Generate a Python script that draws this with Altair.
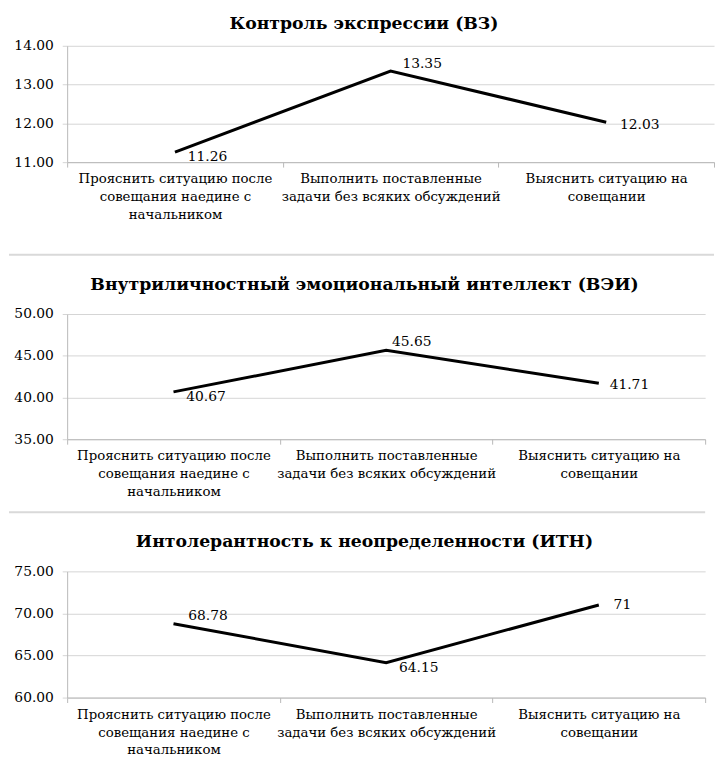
import altair as alt
import pandas as pd

categories = [
    "Прояснить ситуацию после\nсовещания наедине с\nначальником",
    "Выполнить поставленные\nзадачи без всяких обсуждений",
    "Выяснить ситуацию на\nсовещании",
]

titles = [
    "Контроль экспрессии (ВЗ)",
    "Внутриличностный эмоциональный интеллект (ВЭИ)",
    "Интолерантность к неопределенности (ИТН)",
]

values_vz = [11.26, 13.35, 12.03]
values_vei = [40.67, 45.65, 41.71]
values_itn = [68.78, 64.15, 71]

labels_vz = ["11.26", "13.35", "12.03"]
labels_vei = ["40.67", "45.65", "41.71"]
labels_itn = ["68.78", "64.15", "71"]

ticks_vz = [11, 12, 13, 14]
ticks_vei = [35, 40, 45, 50]
ticks_itn = [60, 65, 70, 75]

SERIF = "DejaVu Serif"
GRID = "#d4d4d4"
AXIS = "#b8b8b8"


def panel(title, values, labels, ticks, width, height, offsets, title_offset, title_dx, sep_y):
    df = pd.DataFrame({"idx": list(range(len(categories))), "cat": categories,
                       "value": values, "label": labels})
    base = alt.Chart(df)
    x = alt.X("cat:N", sort=categories,
              scale=alt.Scale(type="band", paddingInner=0, paddingOuter=0),
              axis=alt.Axis(title=None, labelAngle=0,
                            labelExpr="split(datum.label, '\\n')",
                            tickBand="extent", grid=False, labelLimit=400,
                            domainColor=AXIS, tickColor=AXIS, tickSize=5,
                            labelFont=SERIF, labelFontSize=13.5, labelLineHeight=18,
                            labelColor="black", labelPadding=5, labelBaseline="top"))
    y = alt.Y("value:Q",
              scale=alt.Scale(domain=[ticks[0], ticks[-1]], nice=False, zero=False),
              axis=alt.Axis(title=None, values=ticks, format=".2f", grid=True,
                            gridColor=GRID, domainColor=AXIS, tickColor=GRID,
                            tickSize=5, labelFont=SERIF, labelFontSize=14,
                            labelColor="black", labelPadding=9))
    layers = [base.mark_line(color="black", strokeWidth=3).encode(x=x, y=y)]
    for i, (dx, dy) in enumerate(offsets):
        layers.append(
            base.transform_filter(alt.datum.idx == i)
            .mark_text(align="left", baseline="middle", dx=dx, dy=dy,
                       font=SERIF, fontSize=14, color="black")
            .encode(x=x, y=y, text="label:N")
        )
    if sep_y is not None:
        layers.append(
            alt.Chart(pd.DataFrame({"k": [0]})).mark_rule(color="#d9d9d9", strokeWidth=2)
            .encode(x=alt.value(-59), x2=alt.value(width), y=alt.value(sep_y))
        )
    return alt.layer(*layers).properties(
        width=width, height=height,
        title=alt.TitleParams(title, font=SERIF, fontSize=17.5, fontWeight="bold",
                              color="black", anchor="middle", frame="group",
                              offset=title_offset, dx=title_dx),
    )


p1 = panel(titles[0], values_vz, labels_vz, ticks_vz, 656, 118,
           [(13, 5), (12, -7), (14, 3)], 7, -27, 212)
p2 = panel(titles[1], values_vei, labels_vei, ticks_vei, 647, 127,
           [(13, 5), (6, -8), (11, 2)], 14, -22, 201)
p3 = panel(titles[2], values_itn, labels_itn, ticks_itn, 647, 128,
           [(15, -8), (13, 5), (15, 0)], 14, -22, None)

chart = alt.vconcat(p1, p2, p3, spacing=20).properties(
    padding={"left": 0, "top": 1, "right": 0, "bottom": 0},
    background="white",
).configure_view(stroke=None)

chart.save("out.html", embed_options={"renderer": "svg", "actions": False})
